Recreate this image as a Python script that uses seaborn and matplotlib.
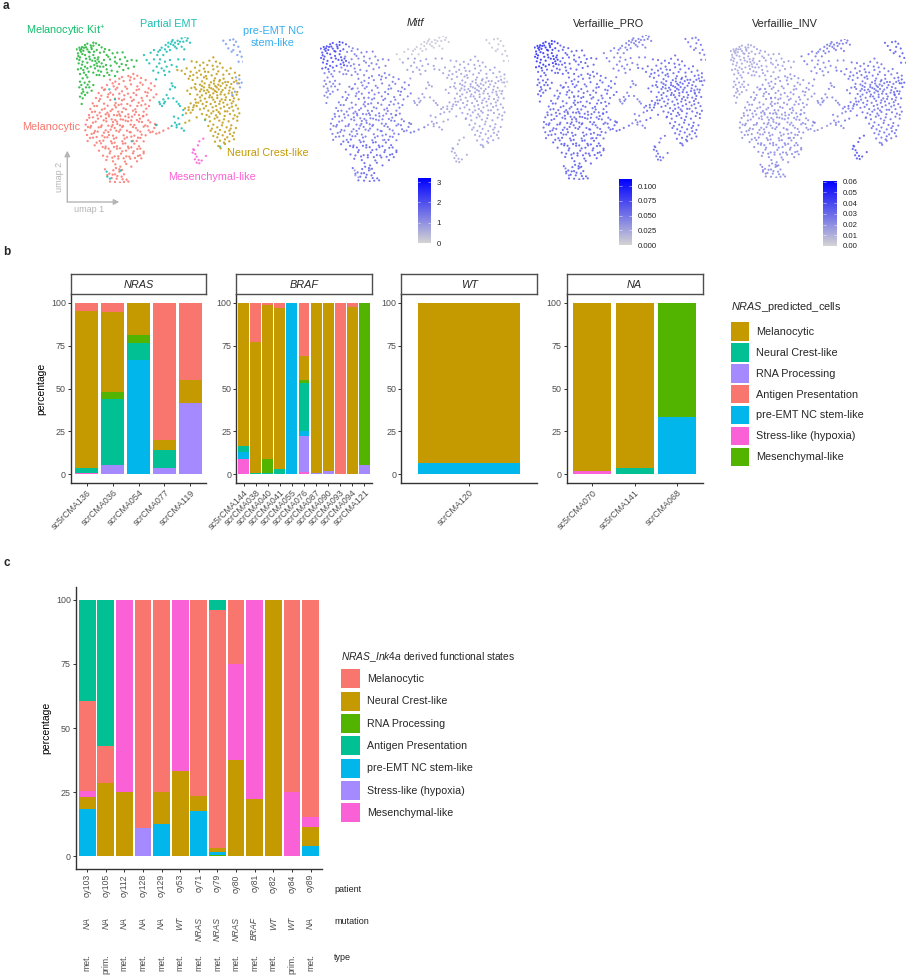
import matplotlib

matplotlib.use("Agg")
import matplotlib.pyplot as plt
import pandas as pd
import seaborn as sns
from matplotlib.colors import LinearSegmentedColormap, Normalize
from matplotlib.cm import ScalarMappable
from matplotlib.patches import Patch

sns.set_style("ticks")
plt.rcParams["font.family"] = ["Liberation Sans", "DejaVu Sans"]
plt.rcParams["mathtext.fontset"] = "custom"
plt.rcParams["mathtext.rm"] = "Liberation Sans"
plt.rcParams["mathtext.it"] = "Liberation Sans:italic"

W, H = 909, 975

# %%
# umap embedding
kit_top = [(230,148),(238,143),(246,141),(255,135),(262,131),(272,136),(280,128),(288,130),(297,135),(243,155),(234,160),
           (250,152),(262,148),(275,147),(290,150),(240,150),(235,168),(280,165),(268,170),(255,165),(240,172),(231,176),
           (236,190),(248,185),(262,188),(277,182),(290,190),(293,178),(283,195),(272,200),(255,200),(243,205),(234,208),
           (292,198),(297,185),(252,143),(269,157),(284,174),(246,194),(244,147),(258,142),(274,142),(266,155),(282,155),
           (247,162),(238,180),(258,176),(270,178),(250,210),(262,205),(286,183),(280,137)]
kit_low = [(305,142),(315,147),(328,150),(300,158),(320,165),(338,160),(352,158),(368,157),(375,172),(360,178),(345,172),
           (330,178),(312,180),(295,172),(300,200),(285,205),(240,222),(252,218),(266,215),(280,218),(295,212),(318,195),
           (332,197),(350,190),(365,192),(382,183),(395,180),(410,182),(402,200),(385,205),(370,210),(352,215),(335,212),
           (320,208),(345,228),(328,225),(312,228),(262,232),(248,235),(240,245),(254,248),(268,245),(238,262),(248,268),
           (258,262),(245,280),(255,285),(248,295),(262,278),(280,255),(275,272),(245,312),(303,215),(290,225),(305,190),
           (312,155),(325,170),(345,185),(358,200),(378,195),(310,200),(298,225),(322,218),(258,225),(244,255),(263,254),
           (250,275),(240,290),(268,262)]
mel = [(385,228),(400,222),(412,227),(423,234),(366,231),(330,239),(346,245),(371,243),(390,241),(403,236),(421,248),
       (437,240),(453,250),(306,263),(321,255),(341,259),(357,252),(376,260),(393,253),(412,259),(428,254),(446,265),
       (464,258),(296,279),(312,270),(331,278),(347,268),(366,274),(381,266),(401,279),(417,268),(436,276),(453,270),
       (469,283),(288,294),(304,287),(323,291),(339,284),(357,296),(373,286),(392,292),(409,285),(425,294),(441,288),
       (461,292),(278,310),(297,303),(312,311),(331,300),(347,309),(366,301),(382,312),(401,299),(416,308),(436,313),
       (450,301),(271,327),(291,318),(306,329),(323,317),(337,328),(356,315),(371,325),(391,317),(406,328),(424,316),
       (439,326),(267,345),(285,335),(299,338),(317,343),(332,333),(351,346),(366,336),(385,343),(399,332),(417,345),
       (431,335),(261,360),(279,352),(294,356),(311,361),(327,349),(346,360),(361,348),(377,362),(396,350),(411,360),
       (429,349),(445,361),(257,374),(273,378),(287,365),(305,376),(319,364),(338,375),(351,365),(369,378),(384,364),
       (403,375),(417,365),(436,376),(451,367),(256,391),(271,383),(285,393),(303,381),(317,391),(335,380),(349,392),
       (367,381),(381,392),(399,381),(413,391),(431,380),(446,391),(463,384),(261,405),(275,402),(293,395),(307,407),
       (325,396),(339,407),(357,395),(371,406),(389,396),(403,407),(421,395),(437,406),(451,397),(469,401),(263,423),
       (279,413),(299,423),(314,412),(333,424),(349,413),(367,424),(381,412),(399,423),(414,413),(431,424),(342,345),
       (355,335),(348,322),(362,358),(335,358),(352,372),(322,338),(378,328),(345,296),(386,352),(478,398),(490,392),
       (505,385),(470,375),(430,348),(465,372),(358,281),(404,344),(327,405),(392,232),(358,236),(338,250),(315,268),
       (352,263),(384,281),(410,270),(443,278),(300,297),(325,283),(372,298),(396,303),(428,302),(283,318),(314,326),
       (344,316),(364,313),(412,318),(447,318),(276,336),(292,346),(326,344),(358,343),(376,349),(408,336),(440,344),
       (268,353),(303,349),(318,355),(339,366),(369,359),(394,361),(420,356),(279,368),(296,382),(325,377),(344,384),
       (360,376),(392,374),(426,366),(443,379),(264,381),(282,399),(312,398),(332,389),(361,389),(392,397),(408,384),
       (425,404),(458,395),(270,414),(290,411),(322,412),(342,416),(374,416),(394,410),(421,414)]
mel_low = [(284,436),(303,430),(317,440),(336,430),(351,439),(369,431),(384,440),(403,431),(417,439),(297,452),(316,445),
           (331,454),(351,446),(367,454),(386,445),(401,454),(421,446),(431,455),(309,467),(329,460),(344,469),(363,461),
           (379,469),(399,460),(414,468),(431,460),(319,480),(339,484),(355,476),(375,485),(391,476),(411,484),(424,475),
           (346,493),(361,500),(379,492),(394,500),(358,508),(340,511),(315,508),(328,521),(345,523),(358,515),(372,523),
           (335,534),(350,536),(365,530),(380,539),(345,546),(360,548),(385,545),(322,525),(290,428),(310,422),(344,428),
           (376,430),(410,423),(308,441),(326,446),(342,441),(360,445),(378,452),(394,442),(412,447),(322,470),(337,473),
           (355,469),(371,475),(388,470),(405,474),(420,466),(348,504),(366,510),(338,524),(352,528),(368,538),(330,545),
           (372,546)]
emt_top = [(432,165),(440,180),(452,158),(462,150),(475,155),(485,143),(497,135),(505,128),(515,125),(525,128),(533,122),
           (545,115),(555,110),(563,115),(570,128),(505,140),(520,135),(535,132),(550,125),(495,148),(510,150),(490,165),
           (472,165),(530,145),(545,140),(560,122),(553,148),(518,120),(512,132),(525,140),(540,125),(500,155),(480,150)]
emt_low = [(448,190),(462,178),(480,178),(495,185),(510,180),(470,200),(485,205),(500,200),(515,195),(535,178),(552,178),
           (460,212),(475,218),(495,225),(508,215),(530,200),(468,238),(515,250),(525,262),(510,268),(500,285),(490,298),
           (480,312),(486,318),(495,305),(520,295),(530,305),(540,318),(550,330),(548,345),(535,355),(525,368),(515,378),
           (530,382),(545,385),(552,392),(538,372),(522,350),(345,298),(328,268),(395,424),(320,515),(322,530),(330,536),
           (362,512),(468,375),(660,440),(615,360),(478,190),(492,212),(518,258),(505,295),(478,306),(492,310),(536,312),
           (530,375)]
nc = [(640,172),(628,182),(648,185),(610,188),(590,186),(575,184),(660,190),(622,195),(600,196),(638,197),(545,212),
      (532,210),(560,205),(572,215),(585,203),(598,212),(612,206),(625,216),(640,208),(655,214),(668,203),(680,212),
      (692,205),(705,218),(555,222),(580,225),(603,224),(618,228),(635,226),(650,222),(670,224),(688,222),(718,226),
      (566,236),(578,240),(592,233),(606,244),(620,236),(633,247),(645,235),(658,244),(671,236),(684,246),(697,234),
      (709,242),(586,252),(600,254),(614,250),(628,255),(642,251),(655,254),(668,250),(680,256),(694,252),(717,250),
      (660,240),(650,262),(562,272),(574,264),(588,268),(600,274),(612,262),(622,270),(634,265),(645,273),(656,268),
      (664,276),(676,264),(688,272),(700,266),(712,276),(570,282),(592,284),(606,286),(618,280),(630,286),(640,280),
      (652,286),(662,283),(674,284),(686,280),(698,288),(710,284),(650,276),(586,298),(600,292),(615,296),(628,292),
      (640,299),(652,294),(665,298),(678,292),(690,300),(702,295),(716,298),(572,310),(582,316),(595,308),(608,312),
      (620,306),(632,312),(645,306),(658,312),(670,308),(682,314),(695,310),(708,316),(590,318),(555,325),(566,322),
      (578,330),(600,328),(612,325),(625,332),(638,322),(650,330),(662,325),(675,334),(688,324),(700,332),(714,326),
      (558,340),(572,338),(606,342),(620,345),(634,340),(648,346),(660,341),(674,348),(690,342),(704,346),(718,340),
      (556,368),(568,362),(590,352),(616,358),(630,364),(644,356),(658,362),(672,358),(686,364),(700,356),(712,362),
      (625,378),(640,374),(652,382),(666,376),(680,382),(694,376),(708,384),(632,392),(646,396),(660,390),(675,396),
      (688,392),(702,398),(640,408),(652,412),(668,406),(682,412),(698,408),(645,425),(660,422),(672,428),(688,424),
      (702,418),(655,438),(662,445),(675,432),(652,200),(615,215),(590,218),(570,228),(612,232),(642,242),(676,246),
      (702,246),(584,262),(606,258),(628,262),(646,258),(662,258),(690,262),(604,268),(626,276),(640,268),(668,270),
      (696,278),(612,272),(636,292),(660,304),(676,300),(700,304),(602,302),(588,308),(648,318),(672,320),(696,320),
      (618,318),(640,334),(656,336),(682,334),(712,350),(628,350),(652,352),(668,368),(636,386),(692,386),(655,402),
      (675,418),(690,402),(580,322),(566,330)]
pre_emt = [(670,122),(678,132),(685,145),(695,155),(700,118),(708,125),(715,140),(720,155),(725,170),(730,185),(712,165),
           (690,120),(702,135),(716,185),(708,232),(718,238),(725,248),(712,250),(720,262),(705,275),(697,285),(700,150)]
mes = [(610,416),(598,424),(594,436),(582,450),(578,458),(586,462),(590,470),(596,480),(590,488),(598,490),(605,482),
       (618,468),(585,478),(580,448)]

groups = {"kit_top": kit_top, "kit_low": kit_low, "mel": mel, "mel_low": mel_low, "emt_top": emt_top,
          "emt_low": emt_low, "nc": nc, "pre": pre_emt, "mes": mes}

# feature level of each group, estimated from the point colours
group_names = ["kit_top", "kit_low", "mel", "mel_low", "emt_top", "emt_low", "nc", "pre", "mes"]
mitf_level = [2.2, 1.4, 1.5, 1.8, 0.2, 0.9, 0.8, 0.25, 0.7]
pro_level = [0.09, 0.068, 0.062, 0.068, 0.05, 0.05, 0.062, 0.055, 0.058]
inv_level = [0.014, 0.016, 0.02, 0.022, 0.028, 0.024, 0.03, 0.036, 0.038]

group_colors = {"kit_top": "#1DB536", "kit_low": "#1DB536", "mel": "#F8766D", "mel_low": "#F8766D",
                "emt_top": "#12BDB4", "emt_low": "#12BDB4", "nc": "#BF9D14", "pre": "#7C9CF5", "mes": "#FB61D7"}

# %%
# panel b
states_b = ["Melanocytic", "Neural Crest-like", "RNA Processing", "Antigen Presentation",
            "pre-EMT NC stem-like", "Stress-like (hypoxia)", "Mesenchymal-like"]
colors_b = ["#C49A00", "#00C094", "#A58AFF", "#F8766D", "#00B6EB", "#FB61D7", "#53B400"]
stack_b = ["Antigen Presentation", "Melanocytic", "Mesenchymal-like", "Neural Crest-like",
           "pre-EMT NC stem-like", "RNA Processing", "Stress-like (hypoxia)"]

nras_samples = ["sc5rCMA136", "scrCMA036", "scrCMA054", "scrCMA077", "scrCMA119"]
nras_values = {
    "Antigen Presentation": [4.9, 5.2, 0, 80, 45],
    "Melanocytic": [91.6, 46.6, 19, 5.7, 13.3],
    "Mesenchymal-like": [0, 4.6, 4.7, 0, 0],
    "Neural Crest-like": [2.9, 38.4, 9.6, 10.4, 0],
    "pre-EMT NC stem-like": [0, 0, 66.7, 0, 0],
    "RNA Processing": [0, 5.2, 0, 3.9, 41.7],
    "Stress-like (hypoxia)": [0.6, 0, 0, 0, 0],
}
braf_samples = ["sc5rCMA144", "scrCMA038", "scrCMA040", "scrCMA041", "scrCMA055", "scrCMA076",
                "scrCMA087", "scrCMA090", "scrCMA093", "scrCMA094", "scrCMA121"]
braf_values = {
    "Antigen Presentation": [0.5, 23, 1.3, 3.3, 0, 31, 0, 0, 100, 2.5, 0],
    "Melanocytic": [83.1, 76.1, 89.7, 93.5, 0, 14, 99.4, 98.2, 0, 97.5, 0],
    "Mesenchymal-like": [0, 0, 8, 0, 0, 2, 0, 0, 0, 0, 94.8],
    "Neural Crest-like": [3.4, 0.9, 1, 3.2, 0, 27.5, 0, 0, 0, 0, 0],
    "pre-EMT NC stem-like": [4.2, 0, 0, 0, 100, 3, 0, 0, 0, 0, 0],
    "RNA Processing": [0, 0, 0, 0, 0, 20.9, 0.6, 1.8, 0, 0, 5.2],
    "Stress-like (hypoxia)": [8.8, 0, 0, 0, 0, 1.6, 0, 0, 0, 0, 0],
}
wt_samples = ["scrCMA120"]
wt_values = {"Melanocytic": [93.3], "pre-EMT NC stem-like": [6.7]}
na_samples = ["sc5rCMA070", "sc5rCMA141", "scrCMA068"]
na_values = {
    "Antigen Presentation": [0, 0.5, 0],
    "Melanocytic": [98.2, 95.8, 0],
    "Mesenchymal-like": [0, 0, 66.7],
    "Neural Crest-like": [0, 3.7, 0],
    "pre-EMT NC stem-like": [0, 0, 33.3],
    "Stress-like (hypoxia)": [1.8, 0, 0],
}

# %%
# panel c
states_c = ["Melanocytic", "Neural Crest-like", "RNA Processing", "Antigen Presentation",
            "pre-EMT NC stem-like", "Stress-like (hypoxia)", "Mesenchymal-like"]
colors_c = ["#F8766D", "#C49A00", "#53B400", "#00C094", "#00B6EB", "#A58AFF", "#FB61D7"]
stack_c = ["Antigen Presentation", "Melanocytic", "Mesenchymal-like", "Stress-like (hypoxia)",
           "Neural Crest-like", "pre-EMT NC stem-like", "RNA Processing"]

patients = ["cy103", "cy105", "cy112", "cy128", "cy129", "cy53", "cy71", "cy79", "cy80", "cy81", "cy82", "cy84", "cy89"]
mutation = ["NA", "NA", "NA", "NA", "NA", "WT", "NRAS", "NRAS", "NRAS", "BRAF", "WT", "WT", "NA"]
tumour_type = ["met.", "prim.", "met.", "met.", "met.", "met.", "met.", "met.", "met.", "met.", "met.", "prim.", "met."]
c_values = {
    "Antigen Presentation": [39.5, 57.1, 0, 0, 0, 0, 0, 3.8, 0, 0, 0, 0, 0],
    "Melanocytic": [35, 14.3, 0, 88.9, 75, 0, 76.5, 93.2, 25, 0, 0, 75, 84.6],
    "Mesenchymal-like": [2.3, 0, 75, 0, 0, 66.7, 0, 0, 37.5, 77.8, 0, 25, 3.9],
    "Stress-like (hypoxia)": [0, 0, 0, 11.1, 0, 0, 0, 0, 0, 0, 0, 0, 0],
    "Neural Crest-like": [4.7, 28.6, 25, 0, 12.5, 33.3, 5.9, 1.5, 37.5, 22.2, 100, 0, 7.7],
    "pre-EMT NC stem-like": [18.5, 0, 0, 0, 12.5, 0, 17.6, 0.9, 0, 0, 0, 0, 3.8],
    "RNA Processing": [0, 0, 0, 0, 0, 0, 0, 0.6, 0, 0, 0, 0, 0],
}


# %%
def add_ax(x0, y0, x1, y1):
    # axes from reference pixel corners
    return fig.add_axes([x0 / W, 1 - y1 / H, (x1 - x0) / W, (y1 - y0) / H])


def umap_frame():
    rows = []
    for name in group_names:
        for x, y in groups[name]:
            rows.append({"umap1": x, "umap2": y, "group": name})
    df = pd.DataFrame(rows)
    df["Mitf"] = df["group"].map(dict(zip(group_names, mitf_level)))
    df["PRO"] = df["group"].map(dict(zip(group_names, pro_level)))
    df["INV"] = df["group"].map(dict(zip(group_names, inv_level)))
    return df


def stacked_bars(ax, samples, values, order, palette):
    df = pd.DataFrame(values, index=samples).reset_index(names="sample")
    df = df.melt(id_vars="sample", var_name="state", value_name="pct")
    present = [s for s in order if s in values]
    sns.histplot(
        data=df,
        x="sample",
        hue="state",
        hue_order=present,
        weights="pct",
        multiple="stack",
        discrete=True,
        shrink=0.9,
        palette=palette,
        alpha=1,
        linewidth=0,
        legend=False,
        ax=ax,
    )
    ax.set_xlim(-0.6, len(samples) - 0.4)
    ax.set_ylim(-5, 105)
    ax.set_yticks([0, 25, 50, 75, 100])
    ax.set_xlabel("")
    ax.set_ylabel("")
    ax.tick_params(axis="both", length=2.2, width=0.7, color="#333333", labelcolor="#4D4D4D", labelsize=6.4, pad=1.5)
    for side in ["left", "bottom"]:
        ax.spines[side].set_linewidth(1)
        ax.spines[side].set_color("#333333")
    sns.despine(ax=ax)


fig = plt.figure(figsize=(W / 100, H / 100), dpi=100)

for label, y in [("a", 6), ("b", 252), ("c", 563)]:
    fig.text(3 / W, 1 - y / H, label, fontsize=8.5, fontweight="bold", ha="left", va="center")

umap_df = umap_frame()
XLIM = (228, 730)
YLIM = (550, 110)

ax = add_ax(76, 36.7, 243.3, 183.3)
sns.scatterplot(data=umap_df, x="umap1", y="umap2", hue="group", palette=group_colors, s=2.8, alpha=0.85, linewidth=0, legend=False, ax=ax)
ax.set_xlim(XLIM)
ax.set_ylim(YLIM)
ax.axis("off")

cluster_labels = [
    (26, 31, "Melanocytic Kit$^{+}$", "#10BE6A", "left"),
    (140, 24, "Partial EMT", "#1BBFB5", "left"),
    (273, 31, "pre-EMT NC", "#35ADF0", "center"),
    (273, 43, "stem-like", "#35ADF0", "center"),
    (21.7, 126.7, "Melanocytic", "#F8766D", "left"),
    (226.7, 153, "Neural Crest-like", "#C49A00", "left"),
    (167.7, 177, "Mesenchymal-like", "#FB61D7", "left"),
]
for x, y, text, color, ha in cluster_labels:
    fig.text(x / W, 1 - y / H, text, color=color, fontsize=7.8, ha=ha, va="center")

# umap direction arrows
for end in [(119.3, 202), (67.3, 150.7)]:
    fig.add_artist(
        matplotlib.patches.FancyArrowPatch(
            (67.3 / W, 1 - 202 / H),
            (end[0] / W, 1 - end[1] / H),
            transform=fig.transFigure,
            arrowstyle="-|>",
            mutation_scale=8,
            color="#B5B5B5",
            linewidth=1,
            shrinkA=0,
            shrinkB=0,
        )
    )
fig.text(89 / W, 1 - 210 / H, "umap 1", color="#B5B5B5", fontsize=6.5, ha="center", va="center")
fig.text(59 / W, 1 - 177 / H, "umap 2", color="#B5B5B5", fontsize=6.5, rotation=90, ha="center", va="center")

# %%
feature_cmap = LinearSegmentedColormap.from_list("feature", ["#D3D3D3", "#0000FF"])
feature_panels = [
    ("Mitf", (320, 36, 509, 182), 3.2, [0, 1, 2, 3], (417.7, 178, 431, 243), 415, "italic", ["0", "1", "2", "3"]),
    ("PRO", (534, 35, 706, 180), 0.112, [0, 0.025, 0.05, 0.075, 0.1], (619, 179, 632, 245), 609, "normal",
     ["0.000", "0.025", "0.050", "0.075", "0.100"]),
    ("INV", (730, 39, 906, 178), 0.0605, [0, 0.01, 0.02, 0.03, 0.04, 0.05, 0.06], (823.3, 181, 836.7, 246), 785, "normal",
     ["0.00", "0.01", "0.02", "0.03", "0.04", "0.05", "0.06"]),
]
feature_titles = {"Mitf": "Mitf", "PRO": "Verfaillie_PRO", "INV": "Verfaillie_INV"}
for col, rect, vmax, ticks, cbar_rect, title_x, style, ticklabels in feature_panels:
    ax = add_ax(*rect)
    sns.scatterplot(
        data=umap_df, x="umap1", y="umap2", hue=col, palette=feature_cmap, hue_norm=(0, vmax),
        s=2.4, alpha=0.85, linewidth=0, legend=False, ax=ax,
    )
    ax.set_xlim(XLIM)
    ax.set_ylim(YLIM)
    ax.axis("off")
    fig.text(title_x / W, 1 - 23 / H, feature_titles[col], fontsize=7.8, fontstyle=style, ha="center", va="center")
    cax = add_ax(*cbar_rect)
    cbar = fig.colorbar(ScalarMappable(Normalize(0, vmax), feature_cmap), cax=cax)
    cbar.outline.set_visible(False)
    cbar.set_ticks(ticks)
    cbar.set_ticklabels(ticklabels)
    cax.tick_params(length=0, labelsize=5.6, pad=4, labelcolor="#222222")
    for tick in ticks:
        cax.plot([0, 0.2], [tick, tick], color="white", lw=0.4, alpha=0.8, transform=cax.get_yaxis_transform())
        cax.plot([0.8, 1], [tick, tick], color="white", lw=0.4, alpha=0.8, transform=cax.get_yaxis_transform())

# %%
palette_b = dict(zip(states_b, colors_b))
facets = [
    ("NRAS", nras_samples, nras_values, 71, 206),
    ("BRAF", braf_samples, braf_values, 236.3, 371.7),
    ("WT", wt_samples, wt_values, 401.3, 537.3),
    ("NA", na_samples, na_values, 566.7, 702.7),
]
for i, (name, samples, values, left, right) in enumerate(facets):
    ax = add_ax(left, 294, right, 483)
    stacked_bars(ax, samples, values, stack_b, palette_b)
    plt.setp(ax.get_xticklabels(), rotation=45, ha="right", rotation_mode="anchor", fontsize=6.4)
    strip = add_ax(left, 274, right, 294)
    strip.set_xticks([])
    strip.set_yticks([])
    for spine in strip.spines.values():
        spine.set_color("#4D4D4D")
        spine.set_linewidth(1)
    strip.text(0.5, 0.47, name, fontsize=7.8, fontstyle="italic", ha="center", va="center", transform=strip.transAxes)
    if i == 0:
        ax.set_ylabel("percentage", fontsize=7.5, color="black", labelpad=3.5)

handles_b = [Patch(facecolor=c, linewidth=0, label=s) for s, c in zip(states_b, colors_b)]
leg = fig.legend(
    handles=handles_b,
    title=r"$\mathit{NRAS}$_predicted_cells",
    loc="upper left",
    bbox_to_anchor=(730.7 / W, 1 - 300 / H),
    frameon=False,
    fontsize=7.8,
    title_fontsize=7.8,
    handlelength=1.71,
    handleheight=2.25,
    labelspacing=0.22,
    handletextpad=0.65,
    borderaxespad=0,
    borderpad=0,
)
leg._legend_box.align = "left"
leg._legend_box.sep = 6

# %%
ax = add_ax(76, 587, 321.7, 869)
stacked_bars(ax, patients, c_values, stack_c, dict(zip(states_c, colors_c)))
ax.set_ylabel("percentage", fontsize=7.5, color="black", labelpad=3)
plt.setp(ax.get_xticklabels(), rotation=90, ha="center", va="top", fontsize=6.2)

row_tops = [(916.7, mutation, "italic"), (954, tumour_type, "normal")]
for y, labels, style in row_tops:
    for i, label in enumerate(labels):
        ax.text(
            i, 1 - (y - 587) / (869 - 587), label, rotation=90, ha="center", va="top", fontsize=6.2,
            fontstyle=style, color="#4D4D4D", transform=ax.get_xaxis_transform(), clip_on=False,
        )
for y, label in [(889, "patient"), (921.7, "mutation"), (957.7, "type")]:
    fig.text(334 / W, 1 - y / H, label, fontsize=6.5, color="#222222", ha="left", va="center")

handles_c = [Patch(facecolor=c, linewidth=0, label=s) for s, c in zip(states_c, colors_c)]
leg = fig.legend(
    handles=handles_c,
    title=r"$\mathit{NRAS\_Ink4a}$ derived functional states",
    loc="upper left",
    bbox_to_anchor=(340.7 / W, 1 - 650 / H),
    frameon=False,
    fontsize=7.7,
    title_fontsize=7.4,
    handlelength=1.78,
    handleheight=2.36,
    labelspacing=0.31,
    handletextpad=0.65,
    borderaxespad=0,
    borderpad=0,
)
leg._legend_box.align = "left"
leg._legend_box.sep = 4

fig.savefig("out.png", dpi=100)
